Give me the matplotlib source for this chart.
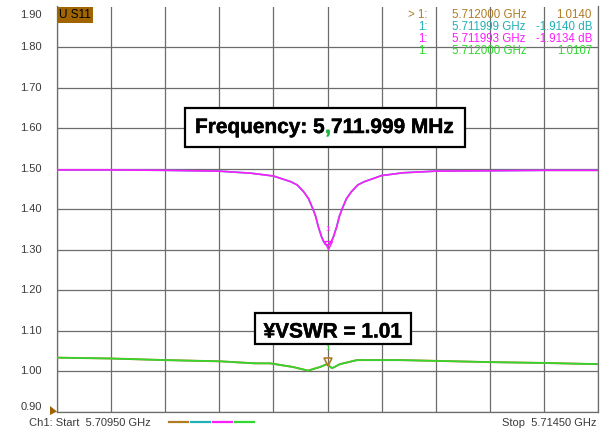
import numpy as np
import matplotlib
matplotlib.use("Agg")
import matplotlib.pyplot as plt
import matplotlib.patheffects as pe
from matplotlib.patches import Rectangle, Polygon

plt.rcParams['font.family'] = ['Liberation Sans', 'DejaVu Sans']

# data (frequency in MHz, VSWR)
mag_freq = [5709.500, 5710.000, 5710.500, 5711.000, 5711.290, 5711.500, 5711.660,
            5711.720, 5711.780, 5711.825, 5711.860, 5711.890, 5711.915, 5711.945,
            5711.965, 5711.980, 5712.000, 5712.020, 5712.035, 5712.055, 5712.085,
            5712.110, 5712.140, 5712.175, 5712.220, 5712.280, 5712.340, 5712.500,
            5712.700, 5713.000, 5713.500, 5714.000, 5714.500]
mag_vswr = [1.497, 1.497, 1.496, 1.494, 1.489, 1.482, 1.468,
            1.460, 1.443, 1.426, 1.404, 1.383, 1.357, 1.332,
            1.320, 1.314, 1.311, 1.314, 1.320, 1.332, 1.357,
            1.383, 1.404, 1.426, 1.443, 1.460, 1.468, 1.483,
            1.490, 1.494, 1.495, 1.496, 1.496]

grn_freq = [5709.500, 5709.990, 5710.498, 5711.006, 5711.330, 5711.469, 5711.681,
            5711.820, 5711.931, 5711.995, 5712.042, 5712.116, 5712.273, 5712.670,
            5713.012, 5713.502, 5713.992, 5714.490]
grn_vswr = [1.034, 1.032, 1.028, 1.025, 1.020, 1.020, 1.011,
            1.002, 1.011, 1.018, 1.008, 1.018, 1.028, 1.028,
            1.026, 1.023, 1.021, 1.018]

y_levels = [0.90, 1.00, 1.10, 1.20, 1.30, 1.40, 1.50, 1.60, 1.70, 1.80, 1.90]
f_start, f_stop = 5709.5, 5714.5
marker_f = 5712.0

readout_rows = [("> 1:", "5.712000 GHz", "1.0140"),
                ("1:", "5.711999 GHz", "-1.9140 dB"),
                ("1:", "5.711993 GHz", "-1.9134 dB"),
                ("1:", "5.712000 GHz", "1.0107")]

c_brown = '#B07C24'
c_cyan = '#22B0B8'
c_mag = '#FF1CFF'
c_grn = '#30D830'
row_colors = [c_brown, c_cyan, c_mag, c_grn]
grid_c = '#6c6c6c'
txt_c = '#3a3a3a'

W, H = 605, 430


def fx(px):
    return px / W


def fy(py):
    return 1 - py / H


fig = plt.figure(figsize=(W / 100, H / 100), dpi=100)
ax = fig.add_axes([fx(57), fy(412), 541 / W, 405.5 / H])
ax.set_xlim(f_start, f_stop)
ax.set_ylim(y_levels[0], y_levels[-1])
ax.set_xticks(np.linspace(f_start, f_stop, 11))
ax.set_yticks(y_levels[:-1])
ax.tick_params(length=0, labelbottom=False, labelleft=False)
ax.grid(True, color=grid_c, lw=0.9)
for s in ['left', 'right', 'bottom']:
    ax.spines[s].set_color(grid_c)
    ax.spines[s].set_linewidth(0.9)
ax.spines['top'].set_visible(False)

# y labels
for v in y_levels:
    dy = 0
    if v == y_levels[-1]:
        dy = -8.5
    elif v == y_levels[0]:
        dy = 5
    ax.annotate(f"{v:.2f}", xy=(0, v), xycoords=('axes fraction', 'data'),
                xytext=(-15, dy), textcoords='offset pixels', ha='right', va='center',
                fontsize=8, color=txt_c, annotation_clip=False)

# traces
ax.plot(mag_freq, mag_vswr, color=c_cyan, lw=1.2, zorder=3)
ax.plot(mag_freq, mag_vswr, color=c_mag, lw=1.2, zorder=4)
ax.plot(grn_freq, grn_vswr, color=c_brown, lw=1.4, zorder=3)
ax.plot(grn_freq, grn_vswr, color=c_grn, lw=1.2, zorder=4)

# markers
m_mag = mag_vswr[mag_freq.index(marker_f)]
ax.plot([marker_f], [m_mag], marker='v', ms=6, mfc='none', mec=c_mag, zorder=5)
ax.annotate("1", xy=(marker_f, m_mag), xytext=(0, 12), textcoords='offset pixels',
            ha='center', va='bottom', fontsize=6, color=c_mag)
m_grn = grn_vswr[grn_freq.index(5711.995)]
ax.plot([marker_f], [m_grn + 0.006], marker='v', ms=6, mfc='none', mec=c_brown, mew=1.2, zorder=5)
ax.annotate("1", xy=(marker_f, m_grn), xytext=(0, 12), textcoords='offset pixels',
            ha='center', va='bottom', fontsize=6, color=c_grn)

# trace label
fig.text(fx(59), fy(15), "U S11", fontsize=8.5, color='black', va='center', ha='left',
         bbox=dict(boxstyle='square,pad=0.15', fc='#A06400', ec='none'))

# marker readout
row_y = [14.5, 26.5, 38.5, 51]
for (a, b, c), col, y in zip(readout_rows, row_colors, row_y):
    fig.text(fx(428), fy(y), a, fontsize=8.3, color=col, ha='right', va='center')
    fig.text(fx(452), fy(y), b, fontsize=8.3, color=col, ha='left', va='center')
    fig.text(fx(592), fy(y), c, fontsize=8.3, color=col, ha='right', va='center')

# footer
fig.text(fx(29), fy(423), "Ch1: Start  5.70950 GHz", fontsize=8, color=txt_c, ha='left', va='center')
fig.text(fx(597), fy(423), "Stop  5.71450 GHz", fontsize=8, color=txt_c, ha='right', va='center')
for x0, col in zip([169, 191, 213, 235], row_colors):
    fig.add_artist(plt.Line2D([fx(x0), fx(x0 + 19)], [fy(422), fy(422)], color=col, lw=1.6))
fig.add_artist(Polygon([(fx(50), fy(406)), (fx(57), fy(411.5)), (fx(50), fy(415))],
                       closed=True, fc='#A06400', ec='none'))

# annotation boxes
heavy = [pe.withStroke(linewidth=0.35, foreground='black')]
fig.add_artist(Rectangle((fx(185), fy(146.5)), 280 / W, 38.5 / H, fc='white', ec='black', lw=1.6, zorder=10))
t1 = fig.text(fx(195), fy(133), "Frequency: 5", fontsize=15, fontweight='bold', ha='left', va='baseline',
              zorder=11, path_effects=heavy)
t2 = fig.text(0, 0, ",", fontsize=15, fontweight='bold', color='#20B040', zorder=11,
              path_effects=[pe.withStroke(linewidth=0.35, foreground='#20B040')])
t3 = fig.text(0, 0, "711.999 MHz", fontsize=15, fontweight='bold', zorder=11, path_effects=heavy)
fig.canvas.draw()
r = fig.canvas.get_renderer()
e1 = t1.get_window_extent(r)
t2.set_position((e1.x1 / W, e1.y0 / H))
t2.set_va('bottom')
fig.canvas.draw()
e2 = t2.get_window_extent(r)
t3.set_position((e2.x1 / W, e1.y0 / H))
t3.set_va('bottom')

fig.add_artist(Rectangle((fx(255), fy(343.5)), 156 / W, 30.5 / H, fc='white', ec='black', lw=1.6, zorder=10))
fig.text(fx(333), fy(337.5), "¥VSWR = 1.01", fontsize=15, fontweight='bold', ha='center', va='baseline',
         zorder=11, path_effects=heavy)

fig.savefig("out.png", dpi=100)
